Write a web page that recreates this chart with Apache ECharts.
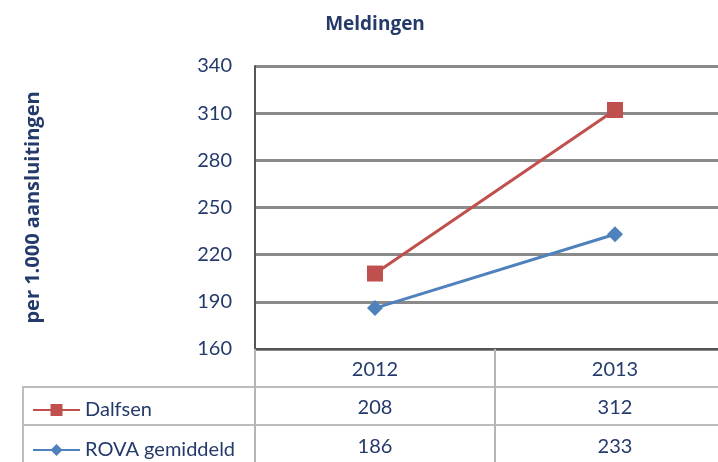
<!DOCTYPE html>
<html>
<head>
<meta charset="utf-8">
<script src="https://cdn.jsdelivr.net/npm/echarts@6/dist/echarts.min.js"></script>
<style>
  html, body { margin: 0; padding: 0; background: #fff; overflow: hidden; }
  /* plot runs past the right edge in the reference, so the canvas is wider than the window */
  #chart { width: 735px; height: 462px; }
</style>
</head>
<body>
<div id="chart"></div>
<script>
var years = ['2012', '2013'];
var dalfsen = [208, 312];
var rova = [186, 233];
var seriesNames = ['Dalfsen', 'ROVA gemiddeld'];
var yTicks = { min: 160, max: 340, step: 30 };

var navy = '#243a6b';
var font = 'Lato, "Open Sans", sans-serif';
var boldFont = '"Open Sans", Lato, sans-serif';

var myChart = echarts.init(document.getElementById('chart'));

// extra x-axes used as rows of the data table
function tableRow(values, offset) {
  return {
    type: 'category',
    data: years,
    position: 'bottom',
    offset: offset,
    axisLine: { show: false },
    axisTick: { show: false },
    axisLabel: {
      margin: 11,
      color: navy,
      fontSize: 20,
      fontFamily: font,
      formatter: function(v, i) { return String(values[i]); }
    }
  };
}

function legendRow(name, top) {
  return {
    left: 27,
    top: top,
    itemWidth: 47,
    itemHeight: 15,
    data: [name],
    textStyle: { color: navy, fontSize: 20, fontFamily: font }
  };
}

var option = {
  title: {
    text: 'Meldingen',
    left: 370,
    top: 10,
    textAlign: 'center',
    textStyle: { color: navy, fontSize: 19, fontWeight: 'bold', fontFamily: boldFont }
  },
  legend: [legendRow(seriesNames[0], 395), legendRow(seriesNames[1], 435)],
  grid: { left: 255, right: 0, top: 66, bottom: 113 },
  xAxis: [
    {
      type: 'category',
      data: years,
      position: 'bottom',
      axisLine: { lineStyle: { color: '#555', width: 2 } },
      axisTick: { show: true, length: 113, lineStyle: { color: '#b4b4b4', width: 2 } },
      axisLabel: { margin: 11, color: navy, fontSize: 20, fontFamily: font }
    },
    tableRow(dalfsen, 38),
    tableRow(rova, 77)
  ],
  yAxis: {
    type: 'value',
    min: yTicks.min,
    max: yTicks.max,
    interval: yTicks.step,
    name: 'per 1.000 aansluitingen',
    nameLocation: 'middle',
    nameGap: 212,
    nameTextStyle: { color: navy, fontSize: 20, fontWeight: 'bold', fontFamily: boldFont },
    axisLine: { show: true, lineStyle: { color: '#555', width: 2 } },
    axisTick: { show: false },
    axisLabel: { margin: 23, color: navy, fontSize: 20, fontFamily: font },
    splitLine: { lineStyle: { color: '#8a8a8a', width: 3 } }
  },
  series: [
    {
      name: seriesNames[0],
      type: 'line',
      data: dalfsen,
      symbol: 'rect',
      symbolSize: 16,
      lineStyle: { color: '#c0504d', width: 3 },
      itemStyle: { color: '#c0504d' }
    },
    {
      name: seriesNames[1],
      type: 'line',
      data: rova,
      symbol: 'diamond',
      symbolSize: 16,
      lineStyle: { color: '#4f81bd', width: 3 },
      itemStyle: { color: '#4f81bd' }
    }
  ],
  // table frame lines
  graphic: [
    { type: 'line', shape: { x1: 22, y1: 387, x2: 735, y2: 387 }, style: { stroke: '#bdbdbd', lineWidth: 2 } },
    { type: 'line', shape: { x1: 22, y1: 425, x2: 735, y2: 425 }, style: { stroke: '#bdbdbd', lineWidth: 2 } },
    { type: 'line', shape: { x1: 23, y1: 387, x2: 23, y2: 462 }, style: { stroke: '#bdbdbd', lineWidth: 2 } }
  ]
};

myChart.setOption(option);
</script>
</body>
</html>
